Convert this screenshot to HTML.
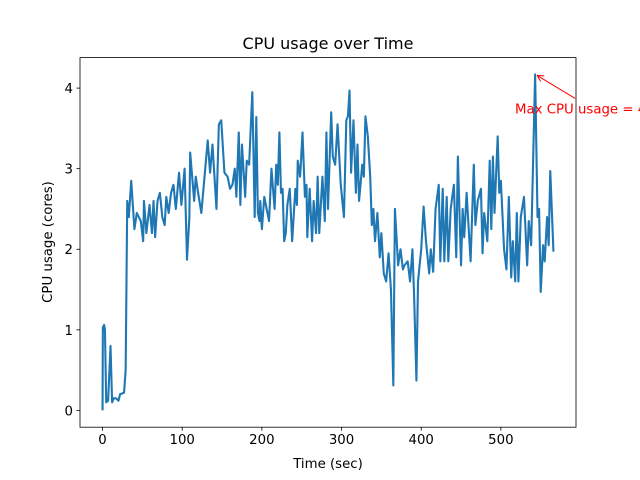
<!DOCTYPE html>
<html><head><meta charset="utf-8"><style>
html,body{margin:0;padding:0;background:#fff;}
svg{display:block;font-family:"DejaVu Sans","Liberation Sans",sans-serif;}
</style></head>
<body>
<svg id="chart" width="640" height="480" viewBox="0 0 640 480" xmlns="http://www.w3.org/2000/svg">
<rect x="0" y="0" width="640" height="480" fill="#fff"/>
<text x="328" y="49" font-size="16" text-anchor="middle" fill="#000">CPU usage over Time</text>
<text x="328" y="468" font-size="13.3" text-anchor="middle" fill="#000">Time (sec)</text>
<text x="52" y="242" font-size="13.3" text-anchor="middle" fill="#000" transform="rotate(-90 52 242)">CPU usage (cores)</text>
<g id="ticks"></g>
<g id="plot"></g>
<rect x="80" y="57.6" width="496" height="369.6" fill="none" stroke="#000" stroke-width="0.8"/>
<g id="annot"></g>
</svg>
<script>
const times = [0,0.4,2,3,4.6,7,10,12,14,17,20,22,27,29,31,33,35,36,40,43,48,51,52,55,59,62,64,66,69,72,75,78,80,83,86,89,92,96,99,103,106,109,110,115,117,120,124,128,132,135,138,143,146,149,153,157,160,163,166,168,171,173,175,179,181,184,188,191,193,195,197,198,200,203,209,212,216,218,220,222,224,226,228,230,232,235,238,242,244,245,248,251,254,256,257,260,263,265,268,270,272,276,279,281,283,287,289,292,295,299,303,306,308,310,312,315,318,320,322,326,328,330,333,336,338,340,342,345,348,350,353,356,359,362,365,367,371,374,377,379,383,386,389,391,394,396,400,403,406,410,412,415,418,422,424,427,429,432,434,437,441,444,446,450,452,454,457,462,466,468,471,475,477,479,483,486,488,490,492,496,498,500,504,507,510,513,515,518,520,522,525,529,533,535,538,543,546,548,550,553,555,558,560,562,566];
const usage = [0,1.03,1.06,1.0,0.1,0.12,0.8,0.1,0.15,0.15,0.12,0.2,0.22,0.5,2.6,2.4,2.7,2.85,2.25,2.45,2.35,2.1,2.6,2.2,2.55,2.2,2.6,2.15,2.6,2.7,2.4,2.3,2.65,2.45,2.7,2.8,2.5,2.95,2.55,3.0,1.87,2.4,3.2,2.6,2.9,2.7,2.45,2.9,3.35,2.95,3.3,2.5,3.55,3.6,2.95,2.9,2.75,2.8,3.0,2.65,3.45,2.55,3.3,2.65,3.1,3.05,3.95,2.4,3.64,2.45,2.35,2.6,2.25,2.65,2.35,3.0,2.5,3.05,2.8,3.45,2.7,2.75,2.1,2.2,2.55,2.75,2.1,2.75,2.55,3.1,2.9,3.45,2.65,2.8,2.15,2.75,2.1,2.6,2.2,2.9,2.2,2.9,2.35,3.45,2.5,3.7,3.15,3.05,3.55,2.8,2.4,3.6,3.65,3.97,2.95,3.6,2.7,3.3,2.6,3.05,2.9,3.65,3.4,2.9,2.3,2.5,2.1,2.45,1.9,2.2,1.7,1.6,1.95,1.5,0.31,2.5,1.8,2.0,1.75,1.8,1.85,1.6,2.0,1.45,0.37,1.6,2.0,2.53,2.1,1.7,2.0,1.72,2.5,2.8,1.85,2.75,1.85,2.65,1.85,2.5,2.8,1.9,3.15,1.8,2.5,2.15,2.7,1.85,3.05,2.3,2.6,2.75,1.95,2.45,2.1,3.1,2.25,3.15,2.45,3.4,2.7,2.85,2.0,1.75,2.65,1.65,2.1,1.6,2.45,1.6,2.4,2.65,1.8,2.35,2.05,4.17,2.4,2.5,1.47,2.05,1.85,2.4,2.05,2.97,1.97];
const xTicks = [0,100,200,300,400,500];
const yTicks = [0,1,2,3,4];

const NS = "http://www.w3.org/2000/svg";
const X0 = 80, X1 = 576, Y0 = 427.2, Y1 = 57.6;
const tMin = Math.min(...times), tMax = Math.max(...times);
const uMin = Math.min(...usage), uMax = Math.max(...usage);
const xPad = (tMax - tMin) * 0.05, yPad = (uMax - uMin) * 0.05;
function xs(t){ return X0 + (t - (tMin - xPad)) / ((tMax + xPad) - (tMin - xPad)) * (X1 - X0); }
function ys(v){ return Y0 - (v - (uMin - yPad)) / ((uMax + yPad) - (uMin - yPad)) * (Y0 - Y1); }

const tickG = document.getElementById('ticks');
xTicks.forEach(t => {
  const l = document.createElementNS(NS, 'line');
  l.setAttribute('x1', xs(t)); l.setAttribute('x2', xs(t));
  l.setAttribute('y1', Y0); l.setAttribute('y2', Y0 + 3.5);
  l.setAttribute('stroke', '#000'); l.setAttribute('stroke-width', '0.8');
  
  
  tickG.appendChild(l);
  const tx = document.createElementNS(NS, 'text');
  tx.setAttribute('x', xs(t)); tx.setAttribute('y', Y0 + 17);
  tx.setAttribute('font-size', '13.3'); tx.setAttribute('text-anchor', 'middle');
  tx.textContent = t;
  
  
  tickG.appendChild(tx);
});
yTicks.forEach(v => {
  const l = document.createElementNS(NS, 'line');
  l.setAttribute('x1', X0 - 3.5); l.setAttribute('x2', X0);
  l.setAttribute('y1', ys(v)); l.setAttribute('y2', ys(v));
  l.setAttribute('stroke', '#000'); l.setAttribute('stroke-width', '0.8');
  
  
  tickG.appendChild(l);
  const tx = document.createElementNS(NS, 'text');
  tx.setAttribute('x', X0 - 7); tx.setAttribute('y', ys(v) + 5);
  tx.setAttribute('font-size', '13.3'); tx.setAttribute('text-anchor', 'end');
  tx.textContent = v;
  
  
  tickG.appendChild(tx);
});

const plotG = document.getElementById('plot');
const path = document.createElementNS(NS, 'path');
path.setAttribute('d', times.map((t, i) => (i ? 'L' : 'M') + xs(t).toFixed(2) + ' ' + ys(usage[i]).toFixed(2)).join(' '));
path.setAttribute('fill', 'none'); path.setAttribute('stroke', '#1f77b4');
path.setAttribute('stroke-width', '2.1'); path.setAttribute('stroke-linejoin', 'round');


plotG.appendChild(path);

const mi = usage.indexOf(uMax);
const px = xs(times[mi]), py = ys(uMax);
const ag = document.getElementById('annot');
const al = document.createElementNS(NS, 'line');
al.setAttribute('x1', px + 40); al.setAttribute('y1', py + 24);
al.setAttribute('x2', px + 2); al.setAttribute('y2', py + 1);
al.setAttribute('stroke', 'red'); al.setAttribute('stroke-width', '1');


ag.appendChild(al);
const ah = document.createElementNS(NS, 'path');
ah.setAttribute('d', `M${px+2} ${py+1} L${px+9} ${py+1.5} M${px+2} ${py+1} L${px+5.5} ${py+7}`);
ah.setAttribute('stroke', 'red'); ah.setAttribute('fill', 'none'); ah.setAttribute('stroke-width', '1');


ag.appendChild(ah);
const at = document.createElementNS(NS, 'text');
at.setAttribute('x', 515); at.setAttribute('y', py + 39);
at.setAttribute('font-size', '13.3'); at.setAttribute('fill', 'red');
at.textContent = 'Max CPU usage = ' + uMax.toFixed(2) + ' cores';


ag.appendChild(at);
</script>
</body></html>
